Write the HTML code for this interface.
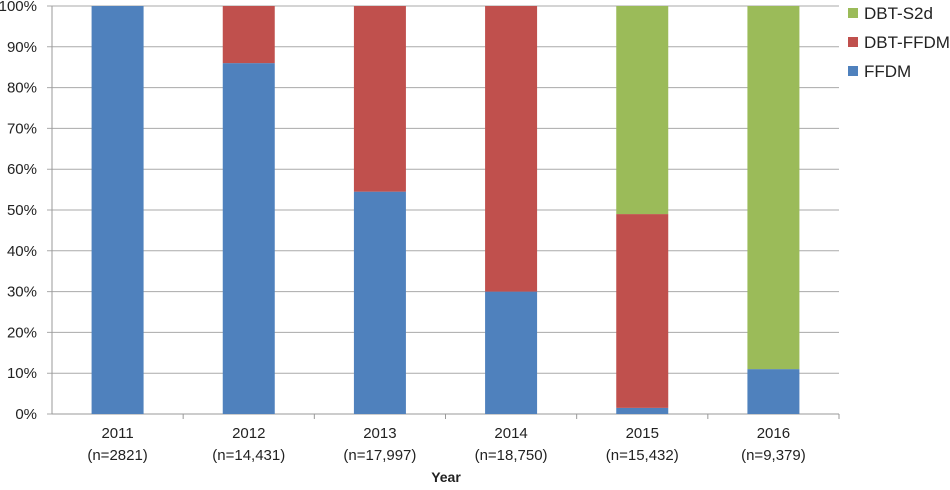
<!DOCTYPE html>
<html><head><meta charset="utf-8"><style>
body{margin:0;background:#fff;}
svg text{font-family:"Liberation Sans",sans-serif;fill:#222;}
</style></head><body>
<svg id="chart" width="950" height="485" xmlns="http://www.w3.org/2000/svg"></svg>
<script>
const categories=["2011","2012","2013","2014","2015","2016"];
const nLabels=["(n=2821)","(n=14,431)","(n=17,997)","(n=18,750)","(n=15,432)","(n=9,379)"];
const ffdm=[100,86,54.5,30,1.5,11];
const dbtFfdm=[0,14,45.5,70,47.5,0];
const dbtS2d=[0,0,0,0,51,89];
const yTicks=[0,10,20,30,40,50,60,70,80,90,100];
const svg=document.getElementById('chart');
const NS="http://www.w3.org/2000/svg";
const x0=52,x1=839,y0=414,y1=6;
const bw=(x1-x0)/categories.length, barW=52;
const y=v=>y0-(y0-y1)*v/100;
function el(t,a,p){const e=document.createElementNS(NS,t);for(const k in a)e.setAttribute(k,a[k]);(p||svg).appendChild(e);return e;}
yTicks.forEach(t=>{
  const g=el('line',{x1:x0-5,x2:x1,y1:y(t),y2:y(t),stroke:'#aaa','stroke-width':1});
  
  
  const tx=el('text',{x:37,y:y(t)+5,'text-anchor':'end','font-size':15});
  tx.textContent=t+'%';
  
  
});
const ax=el('line',{x1:x0,x2:x0,y1:y1,y2:y0,stroke:'#999'});


const xa=el('line',{x1:x0,x2:x1,y1:y0,y2:y0,stroke:'#999'});


const series=[[ffdm,'#4f81bd','ffdm'],[dbtFfdm,'#c0504d','dbt-ffdm'],[dbtS2d,'#9bbb59','dbt-s2d']];
categories.forEach((c,i)=>{
  const cx=x0+bw*(i+0.5);
  let base=0;
  series.forEach(([arr,col,nm])=>{
    const v=arr[i];
    if(v>0){
      const r=el('rect',{x:cx-barW/2,y:y(base+v),width:barW,height:y(base)-y(base+v),fill:col});
      
      
    }
    base+=v;
  });
  const tk=el('line',{x1:x0+bw*(i+1),x2:x0+bw*(i+1),y1:y0,y2:y0+5,stroke:'#999'});
  
  
  const t1=el('text',{x:cx,y:438,'text-anchor':'middle','font-size':15});
  t1.textContent=c;
  
  
  const t2=el('text',{x:cx,y:460,'text-anchor':'middle','font-size':15});
  t2.textContent=nLabels[i];
  
  
});
const yt=el('text',{x:446,y:482,'text-anchor':'middle','font-size':14,'font-weight':'bold'});
yt.textContent='Year';


[['DBT-S2d','#9bbb59',13],['DBT-FFDM','#c0504d',42],['FFDM','#4f81bd',71]].forEach(([n,c,yy])=>{
  const r=el('rect',{x:848,y:yy-5,width:10,height:10,fill:c});
  
  
  const t=el('text',{x:864,y:yy+6,'font-size':17});
  t.textContent=n;
  
  
});
</script>
</body></html>
